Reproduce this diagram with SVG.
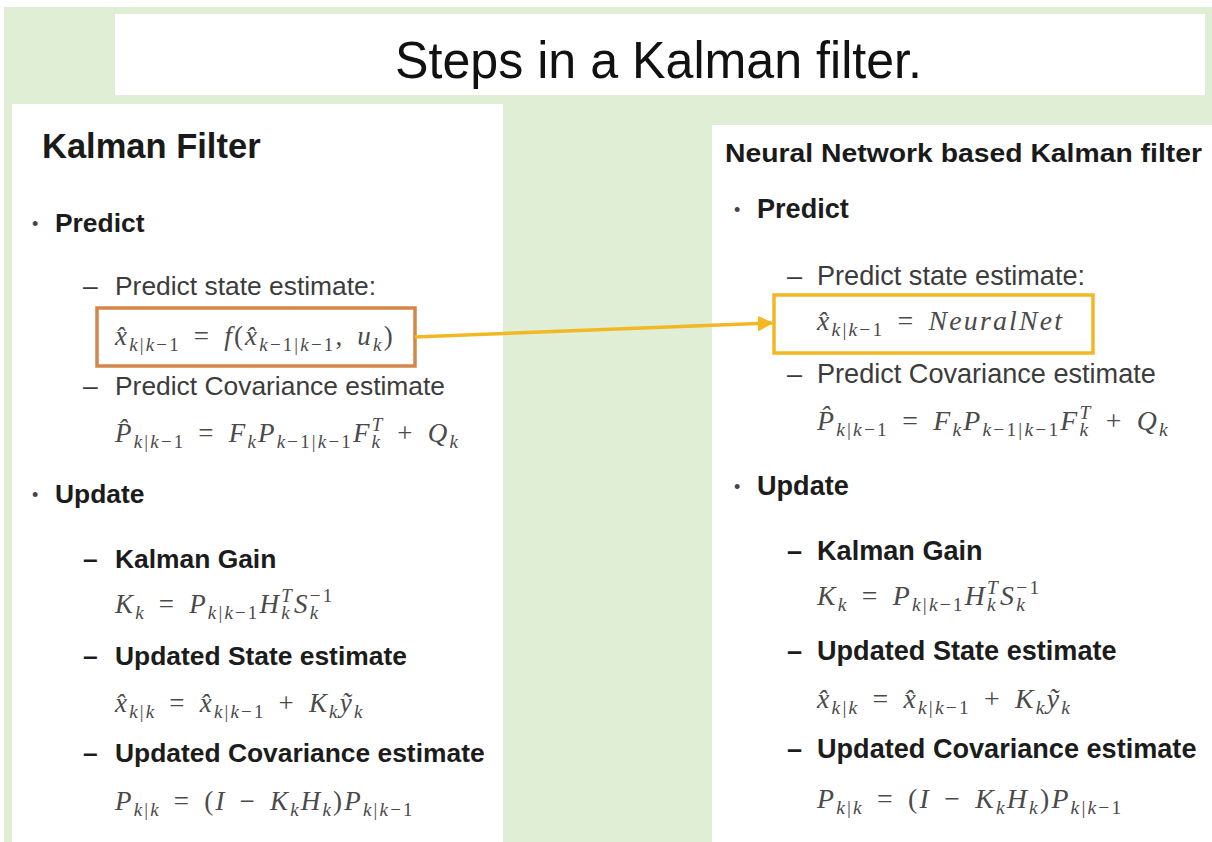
<svg xmlns="http://www.w3.org/2000/svg" width="1212" height="842" viewBox="0 0 1212 842">
<defs>
<style>
.bg{fill:#e0eed5}
.panel{fill:#ffffff}
.title{font-family:"Liberation Sans",Arial,sans-serif;font-size:52px;fill:#111}
.h{font-family:"Liberation Sans",Arial,sans-serif;font-weight:700;fill:#1a1a1a}
.t{font-family:"Liberation Sans",Arial,sans-serif;fill:#3c3c3c}
.b{font-family:"Liberation Sans",Arial,sans-serif;font-weight:700;fill:#1c1c1c}
.dot{font-family:"Liberation Sans",Arial,sans-serif;font-size:18px;fill:#444}
.L{font-size:26.4px}
.R{font-size:27.1px}
.m{font-family:"Liberation Serif","Times New Roman",serif;font-style:italic;fill:#4a4a4a;letter-spacing:2.2px;word-spacing:4px}
.mL{font-size:27px}
.mR{font-size:27.8px}
.u{font-style:normal}
.s{font-size:0.7em}
.box{fill:none;stroke-width:3.5}
.conn{fill:none;stroke:#f2b824;stroke-width:3.5}
</style>
<marker id="ah" viewBox="0 0 10 10" refX="9" refY="5" markerWidth="4.5" markerHeight="4.5" orient="auto" markerUnits="strokeWidth">
<path d="M0,0 L10,5 L0,10 z" fill="#f2b824"/>
</marker>
</defs>
<rect width="1212" height="842" fill="#ffffff"/>
<rect class="bg" x="4" y="7" width="1208" height="835"/>

<g id="title">
<rect class="panel" x="115" y="14" width="1090" height="81"/>
<text class="title" x="395" y="78" textLength="527" lengthAdjust="spacingAndGlyphs">Steps in a Kalman filter.</text>
</g>

<g id="kalman-filter">
<rect class="panel" x="12" y="104" width="491" height="738"/>
<text class="h" x="42" y="158" font-size="34.5px">Kalman Filter</text>
<text class="dot" x="32" y="230">•</text>
<text class="b L" x="55" y="232">Predict</text>
<text class="t L" x="83" y="295">–</text>
<text class="t L" x="115" y="295">Predict state estimate:</text>
<text class="m mL" x="115" y="345">x̂<tspan class="s" dy="6">k<tspan class="u">|</tspan>k<tspan class="u">−1</tspan></tspan><tspan class="u" dy="-6"> = </tspan>f<tspan class="u">(</tspan>x̂<tspan class="s" dy="6">k<tspan class="u">−1|</tspan>k<tspan class="u">−1</tspan></tspan><tspan class="u" dy="-6">, </tspan>u<tspan class="s" dy="6">k</tspan><tspan class="u" dy="-6">)</tspan></text>
<text class="t L" x="83" y="395">–</text>
<text class="t L" x="115" y="395">Predict Covariance estimate</text>
<text class="m mL" x="115" y="442">P̂<tspan class="s" dy="6">k<tspan class="u">|</tspan>k<tspan class="u">−1</tspan></tspan><tspan class="u" dy="-6"> = </tspan>F<tspan class="s" dy="6">k</tspan><tspan dy="-6">P</tspan><tspan class="s" dy="6">k<tspan class="u">−1|</tspan>k<tspan class="u">−1</tspan></tspan><tspan dy="-6">F</tspan><tspan class="s" dy="6">k</tspan><tspan class="s" dx="-10.5" dy="-17">T</tspan><tspan class="u" dy="11"> + </tspan>Q<tspan class="s" dy="6">k</tspan></text>
<text class="dot" x="32" y="501">•</text>
<text class="b L" x="55" y="503">Update</text>
<text class="b L" x="83" y="568">–</text>
<text class="b L" x="115" y="568">Kalman Gain</text>
<text class="m mL" x="115" y="613">K<tspan class="s" dy="6">k</tspan><tspan class="u" dy="-6"> = </tspan>P<tspan class="s" dy="6">k<tspan class="u">|</tspan>k<tspan class="u">−1</tspan></tspan><tspan dy="-6">H</tspan><tspan class="s" dy="6">k</tspan><tspan class="s" dx="-10.5" dy="-17">T</tspan><tspan dy="11">S</tspan><tspan class="s" dy="6">k</tspan><tspan class="s u" dx="-10.5" dy="-17">−1</tspan></text>
<text class="b L" x="83" y="665">–</text>
<text class="b L" x="115" y="665">Updated State estimate</text>
<text class="m mL" x="115" y="712">x̂<tspan class="s" dy="6">k<tspan class="u">|</tspan>k</tspan><tspan class="u" dy="-6"> = </tspan>x̂<tspan class="s" dy="6">k<tspan class="u">|</tspan>k<tspan class="u">−1</tspan></tspan><tspan class="u" dy="-6"> + </tspan>K<tspan class="s" dy="6">k</tspan><tspan dy="-6">ỹ</tspan><tspan class="s" dy="6">k</tspan></text>
<text class="b L" x="83" y="762">–</text>
<text class="b L" x="115" y="762">Updated Covariance estimate</text>
<text class="m mL" x="115" y="810">P<tspan class="s" dy="6">k<tspan class="u">|</tspan>k</tspan><tspan class="u" dy="-6"> = (</tspan>I<tspan class="u"> − </tspan>K<tspan class="s" dy="6">k</tspan><tspan dy="-6">H</tspan><tspan class="s" dy="6">k</tspan><tspan class="u" dy="-6">)</tspan>P<tspan class="s" dy="6">k<tspan class="u">|</tspan>k<tspan class="u">−1</tspan></tspan></text>
<rect id="orange-box" class="box" x="97" y="308" width="318" height="58" stroke="#d4874a"/>
</g>

<g id="nn-kalman-filter">
<rect class="panel" x="712" y="125" width="500" height="717"/>
<text class="h" x="725" y="162" font-size="25px" textLength="477" lengthAdjust="spacingAndGlyphs">Neural Network based Kalman filter</text>
<text class="dot" x="734" y="216">•</text>
<text class="b R" x="757" y="218">Predict</text>
<text class="t R" x="787" y="285">–</text>
<text class="t R" x="817" y="285">Predict state estimate:</text>
<text class="m mR" x="817" y="330">x̂<tspan class="s" dy="6">k<tspan class="u">|</tspan>k<tspan class="u">−1</tspan></tspan><tspan class="u" dy="-6"> = </tspan>NeuralNet</text>
<text class="t R" x="787" y="383">–</text>
<text class="t R" x="817" y="383">Predict Covariance estimate</text>
<text class="m mR" x="817" y="430">P̂<tspan class="s" dy="6">k<tspan class="u">|</tspan>k<tspan class="u">−1</tspan></tspan><tspan class="u" dy="-6"> = </tspan>F<tspan class="s" dy="6">k</tspan><tspan dy="-6">P</tspan><tspan class="s" dy="6">k<tspan class="u">−1|</tspan>k<tspan class="u">−1</tspan></tspan><tspan dy="-6">F</tspan><tspan class="s" dy="6">k</tspan><tspan class="s" dx="-10.8" dy="-17">T</tspan><tspan class="u" dy="11"> + </tspan>Q<tspan class="s" dy="6">k</tspan></text>
<text class="dot" x="734" y="493">•</text>
<text class="b R" x="757" y="495">Update</text>
<text class="b R" x="787" y="560">–</text>
<text class="b R" x="817" y="560">Kalman Gain</text>
<text class="m mR" x="817" y="605">K<tspan class="s" dy="6">k</tspan><tspan class="u" dy="-6"> = </tspan>P<tspan class="s" dy="6">k<tspan class="u">|</tspan>k<tspan class="u">−1</tspan></tspan><tspan dy="-6">H</tspan><tspan class="s" dy="6">k</tspan><tspan class="s" dx="-10.8" dy="-17">T</tspan><tspan dy="11">S</tspan><tspan class="s" dy="6">k</tspan><tspan class="s u" dx="-10.8" dy="-17">−1</tspan></text>
<text class="b R" x="787" y="660">–</text>
<text class="b R" x="817" y="660">Updated State estimate</text>
<text class="m mR" x="817" y="708">x̂<tspan class="s" dy="6">k<tspan class="u">|</tspan>k</tspan><tspan class="u" dy="-6"> = </tspan>x̂<tspan class="s" dy="6">k<tspan class="u">|</tspan>k<tspan class="u">−1</tspan></tspan><tspan class="u" dy="-6"> + </tspan>K<tspan class="s" dy="6">k</tspan><tspan dy="-6">ỹ</tspan><tspan class="s" dy="6">k</tspan></text>
<text class="b R" x="787" y="758">–</text>
<text class="b R" x="817" y="758">Updated Covariance estimate</text>
<text class="m mR" x="817" y="808">P<tspan class="s" dy="6">k<tspan class="u">|</tspan>k</tspan><tspan class="u" dy="-6"> = (</tspan>I<tspan class="u"> − </tspan>K<tspan class="s" dy="6">k</tspan><tspan dy="-6">H</tspan><tspan class="s" dy="6">k</tspan><tspan class="u" dy="-6">)</tspan>P<tspan class="s" dy="6">k<tspan class="u">|</tspan>k<tspan class="u">−1</tspan></tspan></text>
<rect id="yellow-box" class="box" x="774" y="295" width="319" height="58" stroke="#f2b824"/>
</g>

<g id="connectors">
<line class="conn" x1="415" y1="337" x2="772" y2="323" marker-end="url(#ah)"/>
</g>
</svg>
